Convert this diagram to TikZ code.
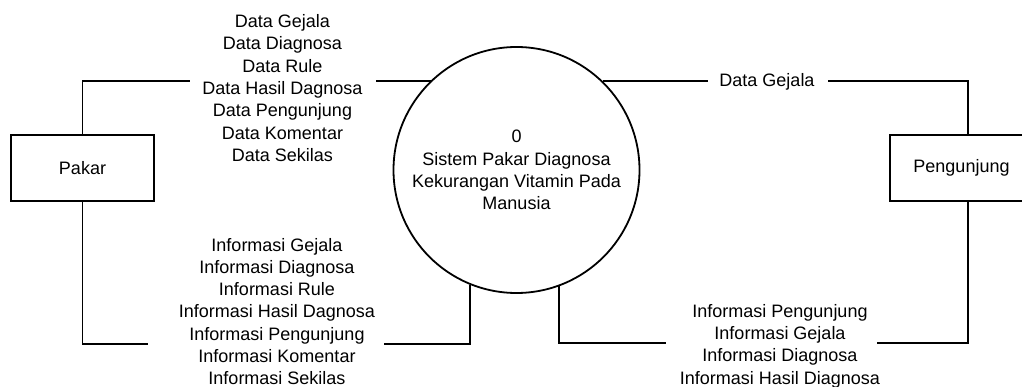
\documentclass[tikz,border=0pt]{standalone}
\usepackage{fontspec}
\setmainfont{Liberation Sans}
\begin{document}
\begin{tikzpicture}[x=1pt,y=-1pt,
  every node/.style={font=\fontsize{18}{22.3}\selectfont},
  entity/.style={draw,line width=1.8pt,rectangle,minimum width=143pt,minimum height=66pt,inner sep=0pt},
  process/.style={draw,line width=1.8pt,circle,minimum size=246pt,inner sep=0pt,align=center},
  flow/.style={line width=1.8pt},
  flowlabel/.style={align=center,inner sep=0pt}]
\useasboundingbox (0,0) rectangle (1022,387);

% external entities and the process
\node[entity] (pakar) at (82.5,168) {Pakar};
\node[entity] (peng) at (961.5,168) {Pengunjung};
\node[process] (proc) at (516.5,170) {0\\Sistem Pakar Diagnosa\\Kekurangan Vitamin Pada\\Manusia};

% ends of the gaps left for the flow labels
\coordinate (tlB) at (190,81);
\coordinate (tlC) at (376,81);
\coordinate (trB) at (708,81);
\coordinate (trC) at (828,81);
\coordinate (blB) at (148,344);
\coordinate (blC) at (384,344);
\coordinate (brB) at (666,343);
\coordinate (brC) at (877,343);

% Pakar -> process
\draw[flow] (pakar.north) |- (tlB);
\draw[flow] (tlC) -- (tlC -| proc.133.7);
\node[flowlabel] (lblPakarIn) at (282.5,88) {Data Gejala\\Data Diagnosa\\Data Rule\\Data Hasil Dagnosa\\Data Pengunjung\\Data Komentar\\Data Sekilas};

% Pengunjung -> process
\draw[flow] (proc.46.3) -- (proc.46.3 -| trB);
\draw[flow] (trC) -| ([xshift=6.5pt]peng.north);
\node[flowlabel] (lblPengIn) at (767,82) {Data Gejala};

% process -> Pakar
\draw[flow] (pakar.south) |- (blB);
\draw[flow] (blC) -| (proc.248.5);
\node[flowlabel] (lblPakarOut) at (277,311.5) {Informasi Gejala\\Informasi Diagnosa\\Informasi Rule\\Informasi Hasil Dagnosa\\Informasi Pengunjung\\Informasi Komentar\\Informasi Sekilas};

% process -> Pengunjung
\draw[flow] (proc.290.5) |- (brB);
\draw[flow] (brC) -| ([xshift=6.5pt]peng.south);
\node[flowlabel] (lblPengOut) at (780,346) {Informasi Pengunjung\\Informasi Gejala\\Informasi Diagnosa\\Informasi Hasil Diagnosa};
\end{tikzpicture}
\end{document}
